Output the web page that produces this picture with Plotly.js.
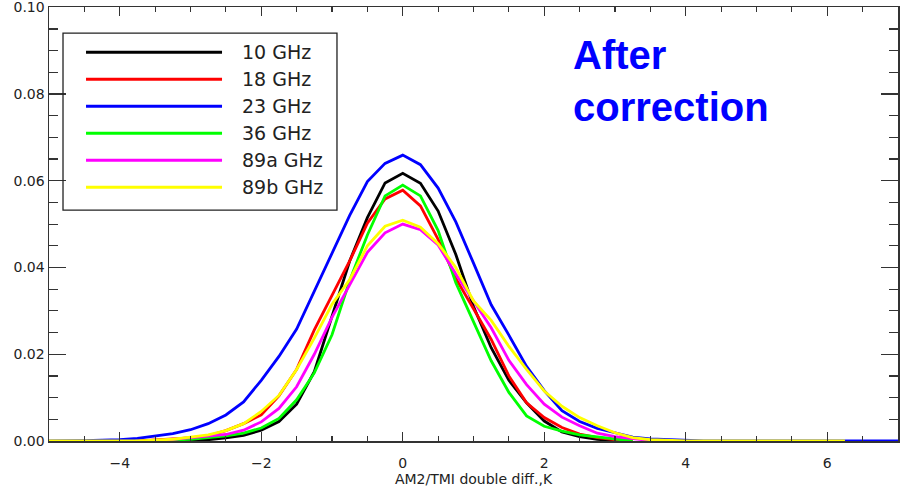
<!DOCTYPE html>
<html>
<head>
<meta charset="utf-8">
<script src="https://cdn.plot.ly/plotly-3.0.1.min.js"></script>
<style>html,body{margin:0;padding:0;background:#fff;}#chart{width:904px;height:497px;}</style>
</head>
<body>
<div id="chart"></div>
<script>
// Shared x grid (K)
const xGrid = [-5,-4.75,-4.5,-4.25,-4,-3.75,-3.5,-3.25,-3,-2.75,-2.5,-2.25,-2,-1.75,-1.5,-1.25,-1,-0.75,-0.5,-0.25,0,0.25,0.5,0.75,1,1.25,1.5,1.75,2,2.25,2.5,2.75,3,3.25,3.5,3.75,4,4.25,4.5,4.75,5,5.25,5.5,5.75,6,6.25,6.5,6.75,7];

const seriesNames = ["10 GHz","18 GHz","23 GHz","36 GHz","89a GHz","89b GHz"];
const seriesColors = ["#000000","#ff0000","#0000ff","#00ff00","#ff00ff","#ffff00"];

const n = null;
const y10 = [n,n,n,n,n,n,0,0,0.0001,0.0003,0.0007,0.0013,0.0025,0.0045,0.0085,0.016,0.029,0.0415,0.0515,0.0595,0.0617,0.0594,0.053,0.043,0.031,0.0215,0.014,0.0088,0.0046,0.0021,0.001,0.0004,0,n,n,n,n,n,n,n,n,n,n,n,n,n,n,n,n];
const y18 = [n,n,n,n,n,0,0.0002,0.0004,0.0007,0.0012,0.0024,0.004,0.006,0.0104,0.0165,0.0256,0.0335,0.0415,0.0502,0.0558,0.0578,0.0542,0.0465,0.0375,0.0305,0.0234,0.015,0.0088,0.0054,0.0031,0.0016,0.0008,0.0003,0,n,n,n,n,n,n,n,n,n,n,n,n,n,n,n];
const y23 = [0,0,0.0001,0.0002,0.0003,0.0006,0.0011,0.0017,0.0026,0.004,0.006,0.009,0.014,0.0195,0.0258,0.0345,0.0435,0.052,0.0598,0.064,0.0659,0.0637,0.0583,0.0505,0.041,0.0314,0.0244,0.0172,0.0116,0.007,0.0045,0.0029,0.0019,0.0009,0.0005,0.0003,0.0001,0,0,0,0,0,0,0,0,0,0,0,0];
const y36 = [n,n,n,n,n,n,0,0.0002,0.0004,0.0008,0.0012,0.0018,0.003,0.0052,0.0095,0.0157,0.0245,0.037,0.0475,0.0565,0.059,0.0565,0.0485,0.0365,0.0275,0.0185,0.0112,0.0058,0.0034,0.0023,0.0014,0.0009,0.0004,0,n,n,n,n,n,n,n,n,n,n,n,n,n,n,n];
const y89a = [n,n,n,n,n,n,0,0.0004,0.0008,0.0011,0.0015,0.0025,0.0044,0.0075,0.0125,0.02,0.0285,0.036,0.0435,0.048,0.05,0.0487,0.0452,0.0385,0.0322,0.0261,0.0186,0.013,0.0085,0.0055,0.0035,0.0018,0.001,0.0005,0.0001,0,n,n,n,n,n,n,n,n,n,n,n,n,n];
const y89b = [0,0,0,0,0,0,0.0002,0.0004,0.0009,0.0014,0.0024,0.004,0.0068,0.0105,0.0165,0.0237,0.0315,0.0372,0.045,0.0495,0.0509,0.0493,0.0455,0.04,0.0323,0.0278,0.0218,0.0165,0.0115,0.008,0.0054,0.0035,0.0019,0.0008,0.0003,0.0001,0,0,0,0,0,0,0,0,0,0,n,n,n];

const yTickVals = [0,0.02,0.04,0.06,0.08,0.10];
const yTickText = ["0.00","0.02","0.04","0.06","0.08","0.10"];
const xTickVals = [-4,-2,0,2,4,6];
const xTickText = ["\u22124","\u22122","0","2","4","6"];

const ySeries = [y10,y18,y23,y36,y89a,y89b];
const traces = ySeries.map((ys,i)=>({
  x: xGrid, y: ys, type:'scatter', mode:'lines', name: seriesNames[i],
  line:{color: seriesColors[i], width:2.8}, connectgaps:false, showlegend:false
}));

const tickFont = {family:'DejaVu Sans, sans-serif', size:14, color:'#222'};
const axisCol = '#333';

// custom legend (paper coords)
const shapes = [{type:'rect', xref:'paper', yref:'paper', x0:0.0165, x1:0.3392, y0:0.532, y1:0.940,
  line:{color:'#222', width:1.3}, fillcolor:'rgba(255,255,255,0)'}];
const annotations = [];
const row0 = 0.8956, rowStep = 0.0622;
seriesNames.forEach((nm,i)=>{
  const yy = row0 - i*rowStep;
  shapes.push({type:'line', xref:'paper', yref:'paper', x0:0.0436, x1:0.2038, y0:yy, y1:yy,
    line:{color:seriesColors[i], width:3}});
  annotations.push({xref:'paper', yref:'paper', x:0.2250, y:yy, xanchor:'left', yanchor:'middle',
    text:nm, showarrow:false, font:{family:'DejaVu Sans, sans-serif', size:19, color:'#222'}});
});
annotations.push({xref:'paper', yref:'paper', x:0.6150, y:0.945, xanchor:'left', yanchor:'top', align:'left',
  text:'<b>After<br>correction</b>', showarrow:false,
  font:{family:'Liberation Sans, Arial, sans-serif', size:40, color:'#0000ff'}});

const layout = {
  width:904, height:497,
  margin:{l:49, r:6, t:7, b:56},
  paper_bgcolor:'#fff', plot_bgcolor:'#fff',
  showlegend:false,
  xaxis:{range:[-5,7], tickvals:xTickVals, ticktext:xTickText, ticks:'inside', ticklen:9, tickwidth:1.3,
    tickcolor:axisCol, showline:true, linecolor:axisCol, linewidth:1.5, mirror:'ticks', showgrid:false, zeroline:false,
    tickfont:tickFont, ticklabelstandoff:9, ticklabeloverflow:'allow',
    minor:{dtick:0.5, ticks:'inside', ticklen:5, tickwidth:1.2, tickcolor:axisCol, showgrid:false},
    title:{text:'AM2/TMI double diff.,K', font:{family:'DejaVu Sans, sans-serif', size:14, color:'#222'}, standoff:2}},
  yaxis:{range:[0,0.10005], tickvals:yTickVals, ticktext:yTickText, ticks:'inside', ticklen:17, tickwidth:1.3,
    tickcolor:axisCol, showline:true, linecolor:axisCol, linewidth:1.5, mirror:'ticks', showgrid:false, zeroline:false,
    tickfont:tickFont, ticklabeloverflow:'allow',
    minor:{dtick:0.005, ticks:'inside', ticklen:9, tickwidth:1.2, tickcolor:axisCol, showgrid:false}},
  shapes: shapes,
  annotations: annotations
};

Plotly.newPlot('chart', traces, layout, {displayModeBar:false, staticPlot:true});
</script>
</body>
</html>
